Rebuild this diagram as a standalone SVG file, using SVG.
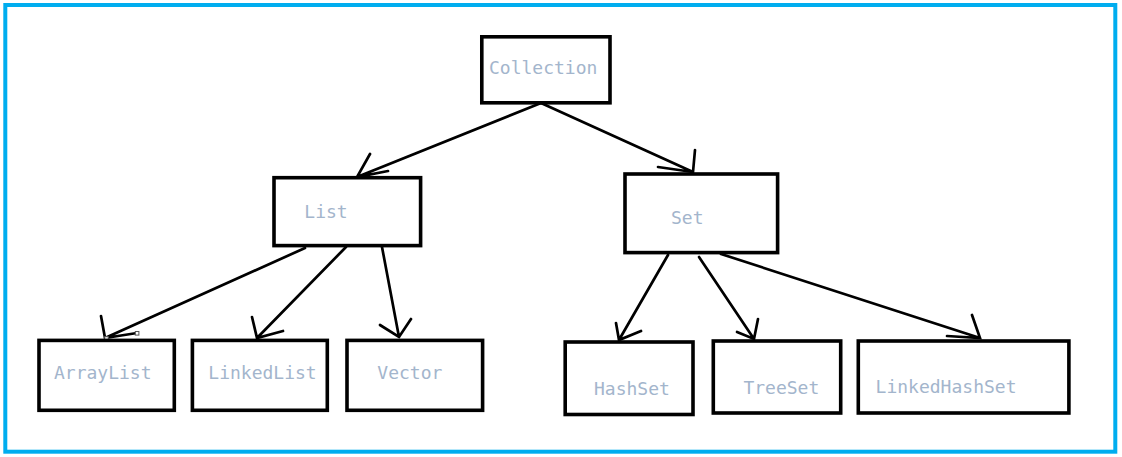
<svg xmlns="http://www.w3.org/2000/svg" width="1122" height="457" viewBox="0 0 1122 457">
<style>
.frame{fill:none;stroke:#00adef;stroke-width:4}
.box{fill:#ffffff;stroke:#000000;stroke-width:3.6}
.lbl{font-family:"DejaVu Sans Mono","Liberation Mono",monospace;font-size:18px;fill:#a3b5cc}
.ln{fill:none;stroke:#000000;stroke-width:2.7;stroke-linecap:round}
.h{fill:#ffffff;stroke:#555555;stroke-width:1}
</style>
<rect x="0" y="0" width="1122" height="457" fill="#ffffff"/>
<rect class="frame" x="5.3" y="5" width="1110" height="446.7"/>
<g id="connectors">
<path class="ln" d="M541,103 L357,177 M370,154 L357,177 L388,171"/>
<path class="ln" d="M541,103 L693,172 M695,150 L693,172 L658,167"/>
<path class="ln" d="M305,248 L105,338 M101,316 L105,338 L137,333"/>
<path class="ln" d="M346,247 L257,338 M252,317 L257,338 L283,331"/>
<path class="ln" d="M382,247 L399,337 M380,325 L399,337 L411,319"/>
<path class="ln" d="M668,255 L619,340 M616,323 L619,340 L641,331"/>
<path class="ln" d="M699,257 L754,339 M758,319 L754,339 L737,332"/>
<path class="ln" d="M721,254 L980,338 M972,315 L980,338 L947,336"/>
<rect class="h" x="104.7" y="336.7" width="3.6" height="3.6"/>
<rect class="h" x="135.3" y="331.5" width="3.6" height="3.6"/>
</g>
<g id="collection"><rect class="box" x="481.8" y="36.8" width="128.2" height="66"/><text class="lbl" x="489" y="74">Collection</text></g>
<g id="list"><rect class="box" x="274" y="177.7" width="146.6" height="67.9"/><text class="lbl" x="304.3" y="217.7">List</text></g>
<g id="set"><rect class="box" x="625" y="174" width="152.6" height="78.6"/><text class="lbl" x="671" y="224.3">Set</text></g>
<g id="arraylist"><rect class="box" x="39" y="340.4" width="135.3" height="69.9"/><text class="lbl" x="54" y="379">ArrayList</text></g>
<g id="linkedlist"><rect class="box" x="192.4" y="340.4" width="134.9" height="69.9"/><text class="lbl" x="208.3" y="379">LinkedList</text></g>
<g id="vector"><rect class="box" x="347" y="340.4" width="135.6" height="69.9"/><text class="lbl" x="377.3" y="379">Vector</text></g>
<g id="hashset"><rect class="box" x="565.2" y="342" width="127.8" height="72.5"/><text class="lbl" x="594" y="394.5">HashSet</text></g>
<g id="treeset"><rect class="box" x="713.3" y="341" width="127.4" height="72"/><text class="lbl" x="743.4" y="394">TreeSet</text></g>
<g id="linkedhashset"><rect class="box" x="858.3" y="341" width="210.6" height="72"/><text class="lbl" x="875.6" y="392.5">LinkedHashSet</text></g>
</svg>
